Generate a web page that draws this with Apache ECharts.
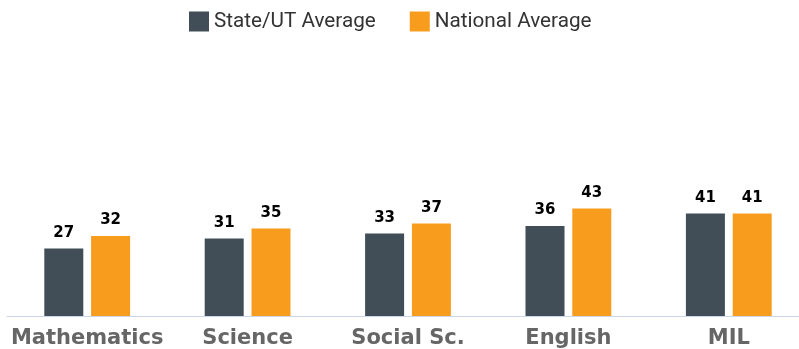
<!DOCTYPE html>
<html>
<head>
<meta charset="utf-8">
<script src="https://cdn.jsdelivr.net/npm/echarts@6/dist/echarts.min.js"></script>
<style>
  html, body { margin: 0; padding: 0; background: #fff; }
  #chart { width: 799px; height: 349px; }
</style>
</head>
<body>
<div id="chart"></div>
<script>
// Subjects and average scores
const subjects = ['Mathematics', 'Science', 'Social Sc.', 'English', 'MIL'];
const stateAverage = [27, 31, 33, 36, 41];
const nationalAverage = [32, 35, 37, 43, 41];

const chart = echarts.init(document.getElementById('chart'));

const valueLabel = {
  show: true,
  position: 'top',
  distance: 8,
  color: '#000',
  fontFamily: 'DejaVu Sans',
  fontWeight: 'bold',
  fontSize: 15
};

chart.setOption({
  animation: false,
  legend: {
    top: 11,
    left: 189,
    padding: 0,
    itemWidth: 20,
    itemHeight: 20,
    itemGap: 34,
    icon: 'rect',
    textStyle: { fontFamily: 'Roboto', fontSize: 20.7, color: '#333' }
  },
  grid: { left: 7, width: 802, top: 66, bottom: 33, outerBoundsMode: 'none' },
  xAxis: {
    type: 'category',
    data: subjects,
    axisLine: { lineStyle: { color: '#ccd6eb', width: 1 } },
    axisTick: { show: false },
    axisLabel: {
      interval: 0,
      margin: 12,
      color: '#666',
      fontFamily: 'DejaVu Sans',
      fontWeight: 'bold',
      fontSize: 21
    }
  },
  yAxis: {
    type: 'value',
    min: 0,
    max: 100,
    show: false,
    splitLine: { show: false }
  },
  series: [
    {
      name: 'State/UT Average',
      type: 'bar',
      data: stateAverage,
      barWidth: 39,
      barGap: '20%',
      itemStyle: { color: '#414e57' },
      label: valueLabel
    },
    {
      name: 'National Average',
      type: 'bar',
      data: nationalAverage,
      barWidth: 39,
      barGap: '20%',
      itemStyle: { color: '#f89c1e' },
      label: valueLabel
    }
  ]
});
</script>
</body>
</html>
